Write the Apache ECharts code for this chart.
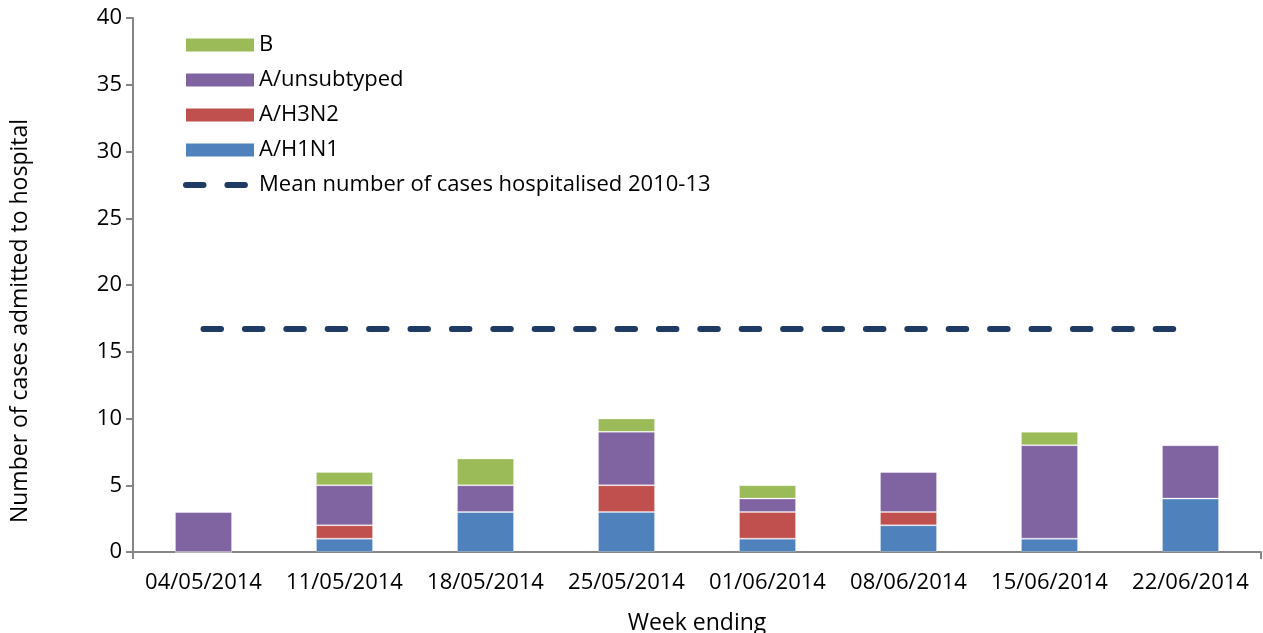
<!DOCTYPE html>
<html>
<head>
<meta charset="utf-8">
<script src="https://cdn.jsdelivr.net/npm/echarts@6/dist/echarts.min.js"></script>
<style>
  html, body { margin: 0; padding: 0; background: #fff; }
  #chart { width: 1263px; height: 633px; }
</style>
</head>
<body>
<div id="chart"></div>
<script>
// week ending categories
var weeks = ["04/05/2014", "11/05/2014", "18/05/2014", "25/05/2014", "01/06/2014", "08/06/2014", "15/06/2014", "22/06/2014"];
// cases by subtype (stacked, bottom to top)
var h1n1 = [0, 1, 3, 3, 1, 2, 1, 4];
var h3n2 = [0, 1, 0, 2, 2, 1, 0, 0];
var unsubtyped = [3, 3, 2, 4, 1, 3, 7, 4];
var fluB = [0, 1, 2, 1, 1, 0, 1, 0];
// mean number hospitalised 2010-13
var meanCases = [16.7, 16.7, 16.7, 16.7, 16.7, 16.7, 16.7, 16.7];
var meanName = "Mean number of cases hospitalised 2010-13";

var font = "Open Sans";
var axisGrey = "#868686";
var navy = "#1F3A63";
var dash = { color: navy, width: 6, type: [17.5, 23.9], cap: 'round' };

var myChart = echarts.init(document.getElementById('chart'));

function barSeries(name, data, color) {
  return {
    name: name,
    type: 'bar',
    stack: 'cases',
    data: data,
    barWidth: 57,
    itemStyle: { color: color, borderColor: 'rgba(255,255,255,0.25)', borderWidth: 1 }
  };
}

var option = {
  animation: false,
  textStyle: { fontFamily: font },
  grid: { left: 133, right: 2, top: 18, bottom: 81, containLabel: false, outerBoundsMode: 'none' },
  legend: {
    orient: 'vertical',
    left: 178,
    top: 29,
    data: [
      { name: 'B', icon: 'rect' },
      { name: 'A/unsubtyped', icon: 'rect' },
      { name: 'A/H3N2', icon: 'rect' },
      { name: 'A/H1N1', icon: 'rect' },
      { name: meanName, itemStyle: { color: 'rgba(0,0,0,0)', borderColor: 'rgba(0,0,0,0)', borderWidth: 0 }, lineStyle: dash }
    ],
    itemWidth: 68,
    itemHeight: 13,
    itemGap: 13,
    itemStyle: { borderWidth: 0 },
    textStyle: { fontFamily: font, fontSize: 22, color: '#000', lineHeight: 22 }
  },
  xAxis: {
    type: 'category',
    data: weeks,
    name: 'Week ending',
    nameLocation: 'middle',
    nameGap: 60,
    nameTextStyle: { fontFamily: font, fontSize: 23, color: '#000' },
    axisLine: { lineStyle: { color: axisGrey, width: 2 } },
    axisTick: { show: true, length: 7, interval: function (i) { return i === 7; }, lineStyle: { color: axisGrey, width: 2 } },
    axisLabel: { fontFamily: font, fontSize: 22, color: '#000', margin: 20, interval: 0 }
  },
  yAxis: {
    type: 'value',
    min: 0,
    max: 40,
    interval: 5,
    name: 'Number of cases admitted to hospital',
    nameLocation: 'middle',
    nameGap: 101,
    nameTextStyle: { fontFamily: font, fontSize: 23, color: '#000', padding: [0, 72, 0, 0] },
    axisLine: { show: true, lineStyle: { color: axisGrey, width: 2 } },
    axisTick: { show: true, inside: false, length: 7, lineStyle: { color: axisGrey, width: 2 } },
    splitLine: { show: false },
    axisLabel: { fontFamily: font, fontSize: 22, color: '#000', margin: 11 }
  },
  series: [
    barSeries('A/H1N1', h1n1, '#4F81BD'),
    barSeries('A/H3N2', h3n2, '#C0504D'),
    barSeries('A/unsubtyped', unsubtyped, '#8064A2'),
    barSeries('B', fluB, '#9BBB59'),
    {
      name: meanName,
      type: 'line',
      data: meanCases,
      symbol: 'none',
      lineStyle: dash,
      itemStyle: { color: navy }
    }
  ]
};

myChart.setOption(option);
</script>
</body>
</html>
